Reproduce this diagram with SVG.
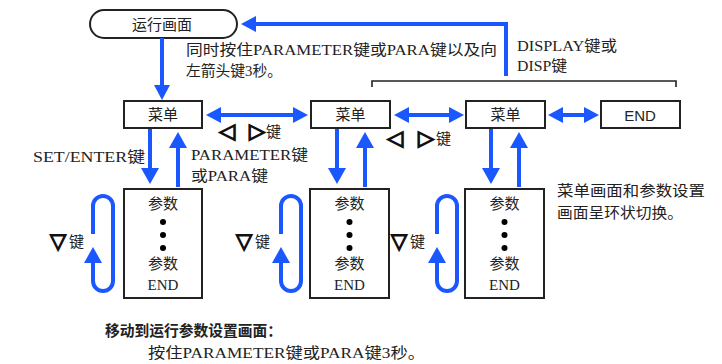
<svg xmlns="http://www.w3.org/2000/svg" width="722" height="364" viewBox="0 0 722 364">
<style>
.t{font-family:"Liberation Serif","Noto Sans CJK SC",serif;font-size:15px;fill:#222}
.s{font-family:"Liberation Sans","Noto Sans CJK SC",sans-serif;font-size:15px;fill:#222}
.sym{font-family:"DejaVu Sans",sans-serif;font-size:21px;fill:#111;stroke:#111;stroke-width:1.3}
.box{fill:#fff;stroke:#222;stroke-width:2}
.bl{stroke:#1a57ff;stroke-width:4;fill:none}
.ah{fill:#1a57ff}
.m{text-anchor:middle}
</style>
<rect width="722" height="364" fill="#fff"/>
<g id="run">
<rect class="box" x="90" y="10" width="147" height="28" rx="14"/>
<text class="s m" x="162" y="30" font-size="15.5">运行画面</text>
</g>
<g id="menu1"><rect class="box" x="124" y="101" width="78" height="27"/><text class="s m" x="163" y="120">菜单</text></g>
<g id="menu2"><rect class="box" x="311" y="101" width="79" height="27"/><text class="s m" x="350.5" y="120">菜单</text></g>
<g id="menu3"><rect class="box" x="466" y="101" width="79" height="27"/><text class="s m" x="505.5" y="120">菜单</text></g>
<g id="end"><rect class="box" x="601" y="101" width="79" height="27"/><text class="s m" x="640" y="121" font-size="16.5">END</text></g>
<g id="param1"><rect class="box" x="124" y="189" width="78" height="109"/>
<text class="t m" x="163" y="209">参数</text>
<circle cx="163" cy="222" r="3"/><circle cx="163" cy="235" r="3"/><circle cx="163" cy="248" r="3"/>
<text class="t m" x="163" y="269">参数</text><text class="t m" x="163" y="290">END</text></g>
<g id="param2"><rect class="box" x="310" y="189" width="79" height="109"/>
<text class="t m" x="349.5" y="209">参数</text>
<circle cx="349.5" cy="222" r="3"/><circle cx="349.5" cy="235" r="3"/><circle cx="349.5" cy="248" r="3"/>
<text class="t m" x="349.5" y="269">参数</text><text class="t m" x="349.5" y="290">END</text></g>
<g id="param3"><rect class="box" x="465" y="189" width="79" height="109"/>
<text class="t m" x="504.5" y="209">参数</text>
<circle cx="504.5" cy="222" r="3"/><circle cx="504.5" cy="235" r="3"/><circle cx="504.5" cy="248" r="3"/>
<text class="t m" x="504.5" y="269">参数</text><text class="t m" x="504.5" y="290">END</text></g>
<g id="connectors">
<path class="bl" d="M506,76 V24 H254"/><polygon class="ah" points="241,24 256,16 256,32"/>
<path d="M372,87 V81 H676 V87" fill="none" stroke="#222" stroke-width="1.6"/>
<path class="bl" d="M162,38 V86"/><polygon class="ah" points="162,100 154,85 170,85"/>
<path class="bl" d="M218,115 H296"/><polygon class="ah" points="206,115 221,107 221,123"/><polygon class="ah" points="308,115 293,107 293,123"/>
<path class="bl" d="M406,115 H452"/><polygon class="ah" points="394,115 409,107 409,123"/><polygon class="ah" points="464,115 449,107 449,123"/>
<path class="bl" d="M560,115 H587"/><polygon class="ah" points="548,115 563,107 563,123"/><polygon class="ah" points="599,115 584,107 584,123"/>
<path class="bl" d="M150,129 V170"/><polygon class="ah" points="150,184 141,168 159,168"/>
<path class="bl" d="M178,187 V146"/><polygon class="ah" points="178,132 169,148 187,148"/>
<path class="bl" d="M337,129 V170"/><polygon class="ah" points="337,184 328,168 346,168"/>
<path class="bl" d="M365,187 V146"/><polygon class="ah" points="365,132 356,148 374,148"/>
<path class="bl" d="M491,129 V170"/><polygon class="ah" points="491,184 482,168 500,168"/>
<path class="bl" d="M519,187 V146"/><polygon class="ah" points="519,132 510,148 528,148"/>
<path class="bl" d="M93,234 V206 A10,10 0 0 1 113,206 V281 A10,10 0 0 1 93,281 V262"/><polygon class="ah" points="93,247 84,263 102,263"/>
<path class="bl" d="M281,234 V206 A10,10 0 0 1 301,206 V281 A10,10 0 0 1 281,281 V262"/><polygon class="ah" points="281,247 272,263 290,263"/>
<path class="bl" d="M437,234 V206 A10,10 0 0 1 457,206 V281 A10,10 0 0 1 437,281 V262"/><polygon class="ah" points="437,247 428,263 446,263"/>
</g>
<g id="labels">
<text class="t" x="186" y="55" textLength="311" lengthAdjust="spacingAndGlyphs">同时按住PARAMETER键或PARA键以及向</text>
<text class="t" x="186" y="76" textLength="96" lengthAdjust="spacingAndGlyphs">左箭头键3秒。</text>
<text class="t" x="517" y="51" textLength="100" lengthAdjust="spacingAndGlyphs">DISPLAY键或</text>
<text class="t" x="517" y="71" textLength="50" lengthAdjust="spacingAndGlyphs">DISP键</text>
<text class="sym" x="219" y="138">◁</text><text class="sym" x="249" y="138">▷</text><text class="t" x="266" y="137">键</text>
<text class="sym" x="387" y="145">◁</text><text class="sym" x="418" y="145">▷</text><text class="t" x="436" y="144">键</text>
<text class="t" x="33" y="162" textLength="112" lengthAdjust="spacingAndGlyphs">SET/ENTER键</text>
<text class="t" x="191" y="160" textLength="117" lengthAdjust="spacingAndGlyphs">PARAMETER键</text>
<text class="t" x="191" y="181" textLength="77" lengthAdjust="spacingAndGlyphs">或PARA键</text>
<text class="sym" x="50" y="248">▽</text><text class="t" x="69" y="247">键</text>
<text class="sym" x="236" y="248">▽</text><text class="t" x="255" y="247">键</text>
<text class="sym" x="391" y="248">▽</text><text class="t" x="410" y="247">键</text>
<text class="t" x="557" y="196" font-size="16" textLength="148" lengthAdjust="spacingAndGlyphs">菜单画面和参数设置</text>
<text class="t" x="557" y="218" font-size="16" textLength="126" lengthAdjust="spacingAndGlyphs">画面呈环状切换。</text>
<text class="t" x="105" y="336" font-weight="bold" textLength="177" lengthAdjust="spacingAndGlyphs">移动到运行参数设置画面：</text>
<text class="t" x="148" y="358" textLength="277" lengthAdjust="spacingAndGlyphs">按住PARAMETER键或PARA键3秒。</text>
</g>
</svg>
